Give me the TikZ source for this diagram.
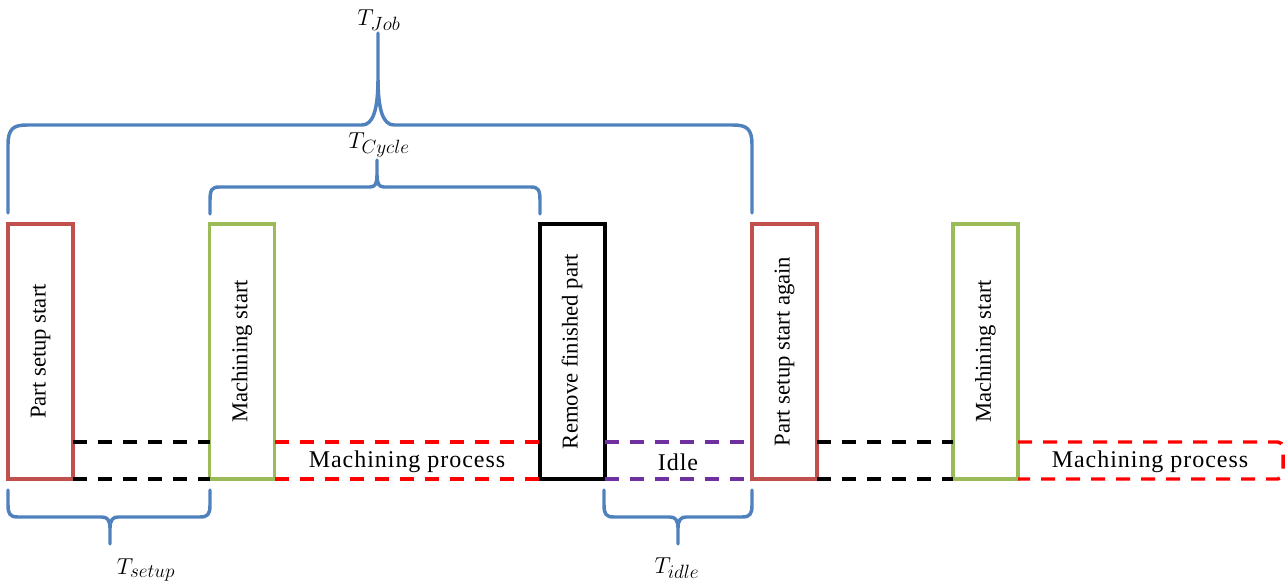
\documentclass[tikz,border=0pt]{standalone}
\usepackage{fontspec}
\setmainfont{Liberation Serif}
\definecolor{offred}{HTML}{C0504D}
\definecolor{offgreen}{HTML}{9BBB59}
\definecolor{offblue}{HTML}{4F81BD}
\definecolor{offpurple}{HTML}{7030A0}
\newcommand{\subsz}[1]{\mbox{\fontsize{13.5}{15}\selectfont$#1$}}
\begin{document}
\begin{tikzpicture}[x=0.75pt,y=-0.75pt,
  box/.style={draw, line width=2.6pt, minimum width=48.75pt, minimum height=191.25pt, inner sep=0pt, outer sep=0pt, fill=white},
  boxtext/.style={rotate=90, font=\fontsize{17}{20}\selectfont, inner sep=0pt},
  dashln/.style={line width=2.6pt, dash pattern=on 10.5pt off 8.25pt},
  brace/.style={draw=offblue, line width=2.6pt, line join=round, line cap=round},
  tlabel/.style={font=\fontsize{17}{20}\selectfont, inner sep=0pt},
  proc/.style={font=\fontsize{18}{21}\selectfont\addfontfeature{LetterSpace=4}, inner sep=0pt}]
\useasboundingbox (0,0) rectangle (1287,584);

% boxes
\node[box, draw=offred] (b1) at (40.5,351.5) {};
\node[box, draw=offgreen] (b2) at (242,351.5) {};
\node[box, draw=black, line width=3pt] (b3) at (572,351.5) {};
\node[box, draw=offred] (b4) at (784.5,351.5) {};
\node[box, draw=offgreen] (b5) at (985.5,351.5) {};

\node[boxtext] (t1) at (b1) {Part setup start};
\node[boxtext] (t2) at (b2) {Machining start};
\node[boxtext] (t3) at (b3) {Remove finished part};
\node[boxtext] (t4) at (b4) {Part setup start again};
\node[boxtext] (t5) at (b5) {Machining start};

% dashed process lines
\draw[dashln, black] ([yshift=27.75pt]b1.south east) -- ([yshift=27.75pt]b2.south west);
\draw[dashln, black] (b1.south east) -- (b2.south west);
\draw[dashln, red] ([yshift=27.75pt]b2.south east) -- ([yshift=27.75pt]b3.south west);
\draw[dashln, red] (b2.south east) -- (b3.south west);
\draw[dashln, offpurple] ([yshift=27.75pt]b3.south east) -- ([yshift=27.75pt]b4.south west);
\draw[dashln, offpurple] (b3.south east) -- (b4.south west);
\draw[dashln, black] ([yshift=27.75pt]b4.south east) -- ([yshift=27.75pt]b5.south west);
\draw[dashln, black] (b4.south east) -- (b5.south west);
\coordinate (mpend) at (1283,479);
\draw[dashln, red, rounded corners=4pt] ([yshift=27.75pt]b5.south east) -| (mpend) -- (b5.south east);

\node[proc] (mp1) at (407,462) {Machining process};
\node[proc] (idle) at (678,462) {Idle};
\node[proc] (mp2) at (1150,462) {Machining process};

% braces
\draw[brace] (8,213) -- (8,145) .. controls (8,129) and (13,125) .. (27,125) -- (362,125)
  .. controls (373,125) and (378,110) .. (378,78) -- (378,33) -- (378,78)
  .. controls (378,110) and (383,125) .. (394,125) -- (733,125)
  .. controls (747,125) and (752,129) .. (752,145) -- (752,213);
\draw[brace] (210,214) -- (210,200) .. controls (210,190) and (212,187) .. (219,187) -- (370,187)
  .. controls (375,187) and (377,184) .. (377,175) -- (377,160) -- (377,175)
  .. controls (377,184) and (379,187) .. (384,187) -- (531,187)
  .. controls (538,187) and (540,190) .. (540,200) -- (540,214);
\draw[brace] (8,490) -- (8,505) .. controls (8,514) and (10,517) .. (18,517) -- (102,517)
  .. controls (107,517) and (110,520) .. (110,528) -- (110,544) -- (110,528)
  .. controls (110,520) and (113,517) .. (118,517) -- (200,517)
  .. controls (208,517) and (210,514) .. (210,505) -- (210,490);
\draw[brace] (604,490) -- (604,505) .. controls (604,514) and (606,517) .. (614,517) -- (670,517)
  .. controls (675,517) and (678,520) .. (678,528) -- (678,544) -- (678,528)
  .. controls (678,520) and (681,517) .. (686,517) -- (742,517)
  .. controls (750,517) and (752,514) .. (752,505) -- (752,490);

% labels
\node[tlabel] (ljob) at (379,20) {$T_{\subsz{Job}}$};
\node[tlabel] (lcyc) at (379,145) {$T_{\subsz{Cycle}}$};
\node[tlabel] (lset) at (146,570) {$T_{\subsz{setup}}$};
\node[tlabel] (lidle) at (677,568) {$T_{\subsz{idle}}$};
\end{tikzpicture}
\end{document}
